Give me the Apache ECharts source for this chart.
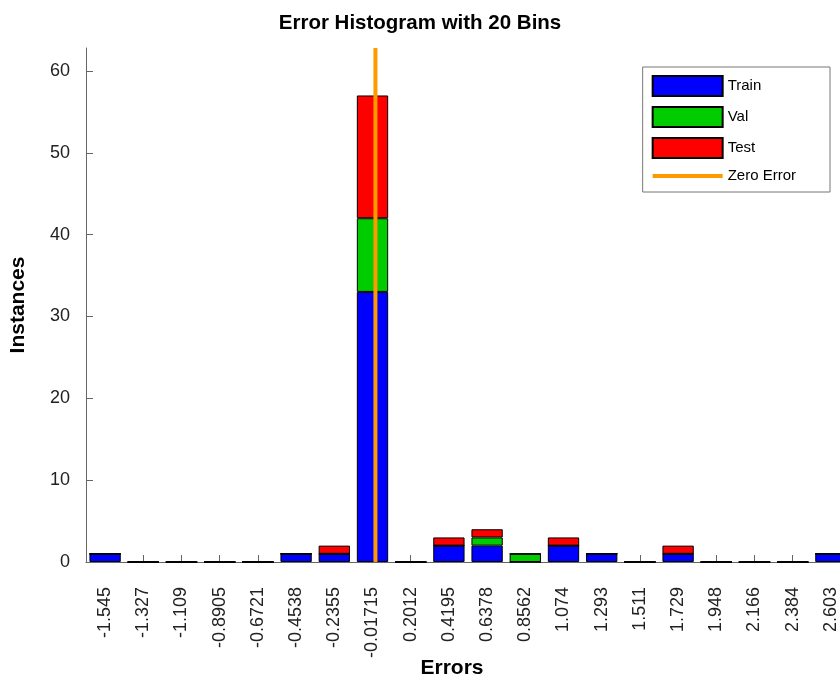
<!DOCTYPE html>
<html>
<head>
<meta charset="utf-8">
<script src="https://cdn.jsdelivr.net/npm/echarts@6/dist/echarts.min.js"></script>
<style>
html,body{margin:0;padding:0;background:#fff;}
#chart{width:840px;height:679px;}
</style>
</head>
<body>
<div id="chart"></div>
<script>
// Bin centers (tick labels) of the error histogram
const binLabels = ['-1.545','-1.327','-1.109','-0.8905','-0.6721','-0.4538','-0.2355','-0.01715','0.2012','0.4195','0.6378','0.8562','1.074','1.293','1.511','1.729','1.948','2.166','2.384','2.603'];
// Instances per bin
const trainCounts = [1,0,0,0,0,1,1,33,0,2,2,0,2,1,0,1,0,0,0,1];
const valCounts   = [0,0,0,0,0,0,0,9,0,0,1,1,0,0,0,0,0,0,0,0];
const testCounts  = [0,0,0,0,0,0,1,15,0,1,1,0,1,0,0,1,0,0,0,0];
// Y axis
const yTickValues = [0,10,20,30,40,50,60];
const yMax = 62.8;
// Zero error position
const zeroError = 0;

const FONT = 'Liberation Sans, Arial, Helvetica, sans-serif';
const binCenters = binLabels.map(Number);
const binWidth = (binCenters[binCenters.length-1] - binCenters[0]) / (binCenters.length - 1);
const xMin = binCenters[0] - binWidth / 2;
const xMax = binCenters[binCenters.length-1] + binWidth / 2;

const chart = echarts.init(document.getElementById('chart'), null, {renderer:'canvas'});
const barStyle = (c) => ({color:c, borderColor:'#000', borderWidth:1});
chart.setOption({
  animation:false,
  backgroundColor:'#fff',
  title:{
    text:'Error Histogram with 20 Bins', left:'center', top:13, padding:0,
    textStyle:{fontFamily:FONT, fontSize:20.5, fontWeight:'bold', color:'#000'}
  },
  grid:{left:86, width:764, top:48, bottom:117, containLabel:false, outerBoundsMode:'none'},
  legend:{
    orient:'vertical', right:10, top:67,
    padding:[8,34,8,8], itemGap:9, itemWidth:70, itemHeight:20,
    borderColor:'#777', borderWidth:1, backgroundColor:'#fff',
    textStyle:{fontFamily:FONT, fontSize:15, color:'#000'},
    data:[
      {name:'Train', icon:'rect'},
      {name:'Val', icon:'rect'},
      {name:'Test', icon:'rect'},
      {name:'Zero Error', lineStyle:{width:4, color:'#FF9900'},
       itemStyle:{color:'rgba(0,0,0,0)', borderWidth:0, opacity:0}}
    ]
  },
  graphic:[
    {type:'text', x:18, y:305, rotation:Math.PI/2,
     style:{text:'Instances', fontFamily:FONT, fontSize:21, fontWeight:'bold', fill:'#000', align:'center', verticalAlign:'middle'}},
    {type:'text', x:452, y:668,
     style:{text:'Errors', fontFamily:FONT, fontSize:21, fontWeight:'bold', fill:'#000', align:'center', verticalAlign:'middle'}}
  ],
  xAxis:[{
    type:'category', data:binLabels, boundaryGap:true,
    axisLine:{show:true, onZero:false, lineStyle:{color:'#666', width:1}},
    axisTick:{show:true, inside:true, length:7, alignWithLabel:true, lineStyle:{color:'#666'}},
    axisLabel:{rotate:90, margin:25, fontFamily:FONT, fontSize:18, color:'#222', interval:0},
    splitLine:{show:false}
  },{
    type:'value', min:xMin, max:xMax, show:false
  }],
  yAxis:{
    type:'value', min:0, max:yMax,
    axisLine:{show:true, onZero:false, lineStyle:{color:'#666', width:1}},
    axisTick:{show:true, inside:true, length:7, customValues:yTickValues, lineStyle:{color:'#666'}},
    axisLabel:{customValues:yTickValues, margin:16, fontFamily:FONT, fontSize:18, color:'#222'},
    splitLine:{show:false}
  },
  series:[
    {name:'Train', type:'bar', stack:'e', data:trainCounts, barWidth:'82%', itemStyle:barStyle('#0000FF')},
    {name:'Val', type:'bar', stack:'e', data:valCounts, barWidth:'82%', itemStyle:barStyle('#00CC00')},
    {name:'Test', type:'bar', stack:'e', data:testCounts, barWidth:'82%', itemStyle:barStyle('#FF0000')},
    {name:'Zero Error', type:'line', xAxisIndex:1, symbol:'none', z:5,
     lineStyle:{color:'#FF9900', width:4}, itemStyle:{color:'#FF9900'},
     data:[[zeroError,0],[zeroError,yMax]]}
  ]
});
</script>
</body>
</html>
